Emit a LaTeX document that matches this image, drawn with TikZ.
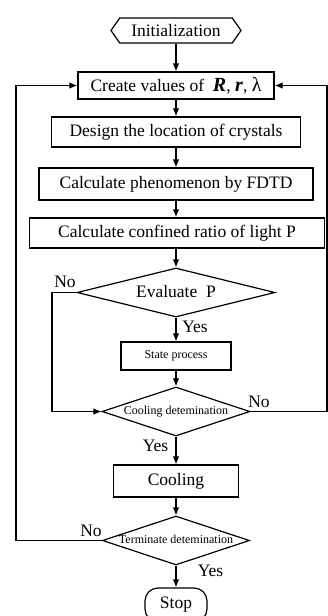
\documentclass[tikz,border=0pt]{standalone}
\usepackage{fontspec}
\setmainfont{Liberation Serif}
\usetikzlibrary{shapes.geometric, shapes.symbols, arrows.meta}

\begin{document}
\begin{tikzpicture}[x=1pt, y=-1pt, line width=1.2pt,
  box/.style={draw, rectangle, inner sep=0pt, font=\fontsize{17.5}{20}\selectfont},
  dec/.style={draw, diamond, aspect=3, inner sep=0pt, text height=9pt, text depth=3pt, font=\fontsize{12}{14}\selectfont},
  arr/.style={-{Latex[length=8pt, width=6.5pt]}},
  lab/.style={inner sep=0pt, font=\fontsize{17.5}{20}\selectfont}]
\clip (0,0) rectangle (328,616);
\node[draw, signal, signal to=west and east, signal pointer angle=110, minimum width=130pt, minimum height=25pt, inner sep=0pt, font=\fontsize{17.5}{20}\selectfont] (init) at (176,30.5) {Initialization};
\node[box, minimum width=196pt, minimum height=27pt] (create) at (176,85.5) {Create values of\ \ {\fontsize{20}{20}\selectfont\textbf{\textit{R}}}, {\fontsize{20}{20}\selectfont\textbf{\textit{r}}}, {\fontsize{20}{20}\selectfont λ}};
\node[box, minimum width=249pt, minimum height=30pt] (design) at (176,132) {Design the location of crystals};
\node[box, minimum width=274pt, minimum height=32pt] (fdtd) at (176,184) {Calculate phenomenon by FDTD};
\node[box, minimum width=295pt, minimum height=30pt] (ratio) at (177,233) {Calculate confined ratio of light P};
\node[dec, minimum width=198pt, minimum height=49pt, font=\fontsize{17.5}{20}\selectfont, text height=12pt] (eval) at (176,292.5) {Evaluate\ \ P};
\node[box, minimum width=110pt, minimum height=28pt, font=\fontsize{12}{14}\selectfont] (state) at (176,356) {State process};
\node[dec, minimum width=148pt, minimum height=49pt] (cooldet) at (176,411.5) {Cooling detemination};
\node[box, minimum width=125pt, minimum height=32pt] (cool) at (176,481) {Cooling};
\node[dec, minimum width=147pt, minimum height=49pt, inner xsep=-3pt] (termdet) at (176,540.5) {Terminate detemination};
\node[draw, rounded corners=13pt, minimum width=62pt, minimum height=34pt, inner sep=0pt, font=\fontsize{17.5}{20}\selectfont] (stop) at (176,605) {Stop};
\coordinate (lx) at (16,0);
\coordinate (nx) at (52,0);
\coordinate (rx) at (327,0);
\draw[arr] (init.south) -- (create.north);
\draw[arr] (create.south) -- (design.north);
\draw[arr] (design.south) -- (fdtd.north);
\draw[arr] (fdtd.south) -- (fdtd.south |- ratio.north);
\draw[arr] (ratio.south -| eval) -- (eval.north);
\draw[arr] (eval.south) -- (state.north);
\draw[arr] (state.south) -- (cooldet.north);
\draw[arr] (cooldet.south) -- (cool.north);
\draw[arr] (cool.south) -- (termdet.north);
\draw[arr] (termdet.south) -- (stop.north);
\draw[arr] (eval.west) -- (eval.west -| nx) |- (cooldet.west);
\draw[arr] (cooldet.east) -- (cooldet.east -| rx) |- (create.east);
\draw[arr] (termdet.west) -- (termdet.west -| lx) |- (create.west);
\node[lab] (no1) at (65,282) {No};
\node[lab] (yes1) at (195,327) {Yes};
\node[lab] (no2) at (259,402) {No};
\node[lab] (yes2) at (155.5,446) {Yes};
\node[lab] (no3) at (91,531) {No};
\node[lab] (yes3) at (210.5,571) {Yes};
\end{tikzpicture}
\end{document}
